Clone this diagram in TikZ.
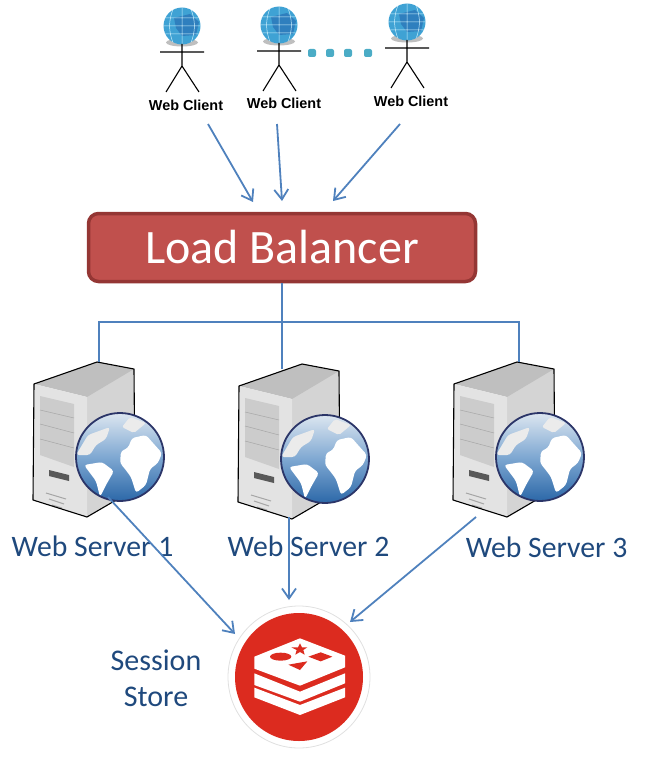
\documentclass[tikz,border=0pt]{standalone}
\usepackage{fontspec}
\setmainfont{Carlito}
\newfontfamily\clientfont{Liberation Sans}
\usetikzlibrary{positioning,calc,arrows.meta,shapes.geometric}
\definecolor{wireblue}{HTML}{4F81BD}
\definecolor{textblue}{HTML}{1F497D}
\definecolor{lbfill}{HTML}{C0504D}
\definecolor{lbedge}{HTML}{943634}
\definecolor{dotteal}{HTML}{4BACC6}
\definecolor{redisred}{HTML}{DC2B1F}
\definecolor{clientglobe}{HTML}{3FA2D4}
\definecolor{clientland}{HTML}{2F7FBE}
\definecolor{globetop}{HTML}{DCE6F0}
\definecolor{globemid}{HTML}{7FA8D2}
\definecolor{globelow}{HTML}{2C68A8}
\definecolor{globering}{HTML}{2B3568}
\tikzset{
  wire/.style={wireblue,line width=1.6pt},
  flow/.style={wireblue,line width=1.8pt,-{Straight Barb[length=10pt,width=14pt]}},
  clientlabel/.style={font=\clientfont\bfseries\fontsize{14.4}{16}\selectfont},
  serverlabel/.style={textblue,font=\fontsize{29.7}{34}\selectfont},
  pics/webclient/.style={code={
    \fill[black!25] (0,16.5) ellipse (16 and 4);
    \fill[clientglobe] (0,0) circle (18.5);
    \begin{scope}
      \clip (0,0) circle (18.5);
      \fill[clientland] (-8,-8) -- (8,-12) -- (17,-4) -- (14,9) -- (0,10) -- (-6,2) -- cycle;
      \draw[cyan!20,line width=0.5pt] (-19,-8) -- (19,-8) (-19,0) -- (19,0) (-19,8) -- (19,8)
        (0,-19) -- (0,19) (-9,-17) to[bend right=20] (-9,17) (9,-17) to[bend left=20] (9,17);
    \end{scope}
    \draw[black,line width=1.1pt] (-22,26) -- (22,26) (0,18) -- (0,40) (-16,66) -- (0,40) -- (17,66);
  }},
  pics/webserver/.style={code={
    % body of the tower
    \fill[black!17] (60,1) -- (97,8) -- (97,128) -- (50,156) -- (50,36) -- cycle;
    \fill[black!25] (-3,23) -- (60,1) -- (97,8) -- (50,36) -- cycle;
    \fill[black!11] (-3,23) -- (50,36) -- (50,156) -- (-4,139) -- cycle;
    \fill[black!20] (3,35) -- (37,43) -- (37,106) -- (3,94) -- cycle;
    \draw[black!35,line width=0.5pt] (3,49) -- (37,57) (3,63) -- (37,72) (3,78) -- (37,87);
    \fill[black!65] (12,109) -- (32,114) -- (32,120) -- (12,115) -- cycle;
    \draw[black!35,line width=1pt] (9,132) -- (29,138) (12,138) -- (27,143) (15,144) -- (25,147);
    \draw[black,line width=1.1pt,line join=round] (-3,23) -- (60,1) -- (97,8) -- (98,128) -- (50,156) -- (-4,139) -- cycle;
    % globe in front of it
    \begin{scope}[shift={(83,96)}]
      \shade[top color=globetop,bottom color=globelow,middle color=globemid] (0,0) circle (44);
      \begin{scope}
        \clip (0,0) circle (44);
        \fill[white,rounded corners=3pt] (1,-6) -- (8,-9) -- (12,-19) -- (26,-22) -- (33,-14) -- (42,-4) -- (38,6) -- (30,12) -- (26,28) -- (16,36) -- (11,20) -- (5,12) -- (0,6) -- cycle;
        \fill[white,rounded corners=3pt] (-36,8) -- (-18,5) -- (-6,14) -- (-14,28) -- (-20,40) -- (-24,24) -- cycle;
        \fill[black!8,rounded corners=3pt] (-44,-2) -- (-32,-22) -- (-10,-30) -- (-14,-18) -- (-24,-12) -- (-30,-2) -- cycle;
        \fill[black!8,rounded corners=2pt] (2,-30) -- (10,-40) -- (26,-34) -- (14,-24) -- cycle;
      \end{scope}
      \draw[globering,line width=1.8pt] (0,0) circle (44);
    \end{scope}
  }},
}
\begin{document}
\begin{tikzpicture}[x=1pt,y=-1pt]
\useasboundingbox (0,0) rectangle (646,773);
% clients
\foreach \i/\gx/\gy/\lx/\ly in {1/182/26/186/105, 2/279/25/284/103, 3/407/22/411/101} {
    \pic at (\gx,\gy) {webclient};
    \node[clientlabel] (client\i) at (\lx,\ly) {Web Client};
}
\foreach \k/\dx in {1/312, 2/330, 3/348, 4/368} {
    \node[fill=dotteal,rectangle,rounded corners=2pt,inner sep=0pt,minimum size=8pt] (dot\k) at (\dx,53) {};
}
\coordinate (cstart1) at (208,124);
\coordinate (cstart2) at (277,124);
\coordinate (cstart3) at (400,124);
\coordinate (lbin1) at (253,202);
\coordinate (lbin2) at (282,201);
\coordinate (lbin3) at (333,201);
\foreach \i in {1,2,3} {
    \draw[flow] (cstart\i) -- (lbin\i);
}
% load balancer
\node[rectangle,rounded corners=10pt,draw=lbedge,fill=lbfill,line width=3.5pt,minimum width=387pt,minimum height=68pt,text=white,font=\fontsize{48}{54}\selectfont] (lb) at (282,247.5) {\raisebox{-2pt}{Load Balancer}};
% servers
\pic at (37,361) {webserver};
\pic at (242,363) {webserver};
\pic at (457,361) {webserver};
\node[serverlabel] (srv1) at (92.5,546) {Web Server 1};
\node[serverlabel] (srv2) at (308.5,546) {Web Server 2};
\node[serverlabel] (srv3) at (546.5,547) {Web Server 3};
\coordinate (busmid) at (282,322);
\coordinate (busleft) at (99,322);
\coordinate (busright) at (519,322);
\coordinate (top1) at (99,362);
\coordinate (top2) at (282,369);
\coordinate (top3) at (519,362);
\draw[wire] (lb.south) -- (top2);
\draw[wire] (top1) -- (busleft) -- (busright) -- (top3);
% store
\node[circle,draw=black!12,fill=white,line width=0.8pt,minimum size=142pt,inner sep=0pt] (store) at (299,677) {};
\fill[redisred] (store.center) circle (64);
\begin{scope}[shift={(210,590)},scale=1/3]
  \fill[white] (270,145) -- (405,197) -- (405,232) -- (270,287) -- (133,236) -- (133,200) -- cycle;
  \fill[white] (133,250) -- (270,305) -- (405,250) -- (405,280) -- (270,335) -- (133,285) -- cycle;
  \fill[white] (133,293) -- (270,345) -- (405,293) -- (405,322) -- (270,375) -- (133,322) -- cycle;
  \fill[redisred] (212,200) ellipse (32 and 12);
  \fill[redisred] (295,200) -- (332,187) -- (367,200) -- (332,214) -- cycle;
  \fill[redisred] (235,224) -- (292,214) -- (270,240) -- cycle;
  \fill[redisred] (270,160) -- (276,172) -- (292,172) -- (280,180) -- (284,194) -- (270,186) -- (256,194) -- (260,180) -- (244,172) -- (264,172) -- cycle;
\end{scope}
\node[textblue,font=\fontsize{30}{36}\selectfont,align=center] (storelabel) at (156,678) {Session\\Store};
\coordinate (sstart1) at (108,497);
\coordinate (sstart2) at (289,517);
\coordinate (sstart3) at (476,517);
\coordinate (sin1) at (235,634);
\coordinate (sin2) at (289,600);
\coordinate (sin3) at (350,622);
\foreach \i in {1,2,3} {
    \draw[flow] (sstart\i) -- (sin\i);
}
\end{tikzpicture}
\end{document}
